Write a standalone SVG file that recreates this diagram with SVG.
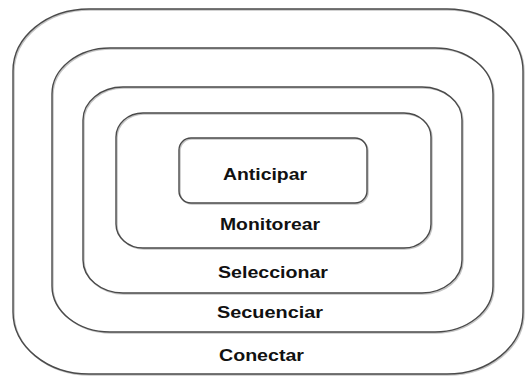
<svg xmlns="http://www.w3.org/2000/svg" width="525" height="376" viewBox="0 0 525 376">
<style>
.sh{fill:none;stroke:#c4c4c4;stroke-width:1.5}
.bx{fill:none;stroke:#4a4a4a;stroke-width:1.4}
.lb{font-family:"Liberation Sans",Arial,sans-serif;font-weight:bold;font-size:16.5px;fill:#111}
</style>
<rect width="525" height="376" fill="#fff"/>
<g id="conectar">
<rect class="sh" x="14" y="10" width="510" height="365" rx="76" ry="62"/>
<rect class="bx" x="13" y="9" width="510" height="365" rx="76" ry="62"/>
<text class="lb" x="219" y="361" textLength="85" lengthAdjust="spacingAndGlyphs">Conectar</text>
</g>
<g id="secuenciar">
<rect class="sh" x="53" y="49" width="441" height="284" rx="58" ry="46"/>
<rect class="bx" x="52" y="48" width="441" height="284" rx="58" ry="46"/>
<text class="lb" x="217" y="318" textLength="106" lengthAdjust="spacingAndGlyphs">Secuenciar</text>
</g>
<g id="seleccionar">
<rect class="sh" x="84" y="88" width="379" height="206" rx="40" ry="33"/>
<rect class="bx" x="83" y="87" width="379" height="206" rx="40" ry="33"/>
<text class="lb" x="218" y="278" textLength="110" lengthAdjust="spacingAndGlyphs">Seleccionar</text>
</g>
<g id="monitorear">
<rect class="sh" x="117" y="114" width="315" height="135" rx="27" ry="24"/>
<rect class="bx" x="116" y="113" width="315" height="135" rx="27" ry="24"/>
<text class="lb" x="220" y="230" textLength="100" lengthAdjust="spacingAndGlyphs">Monitorear</text>
</g>
<g id="anticipar">
<rect class="sh" x="180" y="139" width="188" height="65" rx="12" ry="12"/>
<rect class="bx" x="179" y="138" width="188" height="65" rx="12" ry="12"/>
<text class="lb" x="223" y="180" textLength="84" lengthAdjust="spacingAndGlyphs">Anticipar</text>
</g>
<g id="connectors"/>
</svg>
